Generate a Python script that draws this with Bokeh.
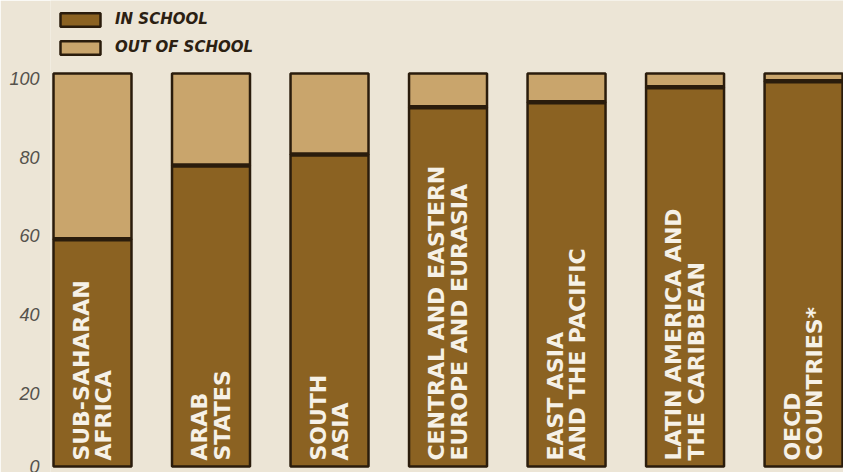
import math
from bokeh.plotting import figure
from bokeh.models import Range1d, FixedTicker, Legend, LegendItem, ColumnDataSource, LinearAxis
from bokeh.core.properties import value
from bokeh.embed import file_html
from bokeh.resources import INLINE

# ---- data ----
regions = [
    "SUB-SAHARAN\nAFRICA",
    "ARAB\nSTATES",
    "SOUTH\nASIA",
    "CENTRAL AND EASTERN\nEUROPE AND EURASIA",
    "EAST ASIA\nAND THE PACIFIC",
    "LATIN AMERICA AND\nTHE CARIBBEAN",
    "OECD\nCOUNTRIES*",
]
in_school = [57.8, 76.6, 79.4, 91.4, 92.7, 96.5, 98.0]
out_of_school = [42.2, 23.4, 20.6, 8.6, 7.3, 3.5, 2.0]
y_ticks = [0, 20, 40, 60, 80, 100]

# ---- styles ----
BG = "#ece5d6"
IN_COL = "#8b6222"
OUT_COL = "#c9a56c"
DARK = "#2a1c0c"
BAR_W = 0.658
Y0, Y1 = -1.527, 118.57
LABEL_SHIFT = 1.3  # tick labels sit a little below their gridline value, as in the print

xs = list(range(len(regions)))
src = ColumnDataSource(dict(
    x=xs,
    label=regions,
    in_school=in_school,
    out_of_school=out_of_school,
    zero=[0] * len(xs),
    total=[a + b for a, b in zip(in_school, out_of_school)],
    x0=[x - BAR_W / 2 for x in xs],
    x1=[x + BAR_W / 2 for x in xs],
))

p = figure(
    width=843, height=472,
    x_range=Range1d(-0.3544, 6.337),
    y_range=Range1d(Y0, Y1),
    output_backend="svg", toolbar_location=None,
    x_axis_location=None, y_axis_location=None,
    min_border_left=50, min_border_right=0, min_border_top=0, min_border_bottom=0,
    background_fill_color=BG, border_fill_color=BG,
)
p.outline_line_color = None
p.grid.visible = False
p.extra_y_ranges = {"labels": Range1d(Y0 + LABEL_SHIFT, Y1 + LABEL_SHIFT)}

r_in = p.vbar(x="x", width=BAR_W, bottom="zero", top="in_school", source=src,
              fill_color=IN_COL, line_color=DARK, line_width=2.5)
r_out = p.vbar(x="x", width=BAR_W, bottom="in_school", top="total", source=src,
               fill_color=OUT_COL, line_color=DARK, line_width=2.5)
p.segment(x0="x0", x1="x1", y0="in_school", y1="in_school", source=src,
          line_color=DARK, line_width=4.5, line_cap="butt")

p.text(x="x", y=1.5, text="label", source=src, angle=math.pi / 2,
       text_align="left", text_baseline="middle",
       text_font=value("DejaVu Sans"), text_font_style="bold",
       text_font_size="22px", text_color="#f6f1e7", text_line_height=0.9)

ax = LinearAxis(y_range_name="labels", ticker=FixedTicker(ticks=y_ticks))
ax.axis_line_color = None
ax.major_tick_line_color = None
ax.minor_tick_line_color = None
ax.major_label_text_font = "Liberation Sans"
ax.major_label_text_font_style = "italic"
ax.major_label_text_font_size = "18px"
ax.major_label_text_color = "#55524c"
ax.major_label_standoff = 5
p.add_layout(ax, "left")

legend = Legend(
    items=[LegendItem(label="IN SCHOOL", renderers=[r_in]),
           LegendItem(label="OUT OF SCHOOL", renderers=[r_out])],
    location=(5, 472 - 12 - 44),
    orientation="vertical",
    glyph_width=50, glyph_height=17, label_height=17,
    spacing=10, padding=0, margin=0, label_standoff=10,
    border_line_color=None, background_fill_alpha=0,
    label_text_font="DejaVu Sans", label_text_font_style="bold italic",
    label_text_font_size="15px", label_text_color="#2b2012",
)
p.add_layout(legend)

open("out.html", "w").write(file_html(p, INLINE))
